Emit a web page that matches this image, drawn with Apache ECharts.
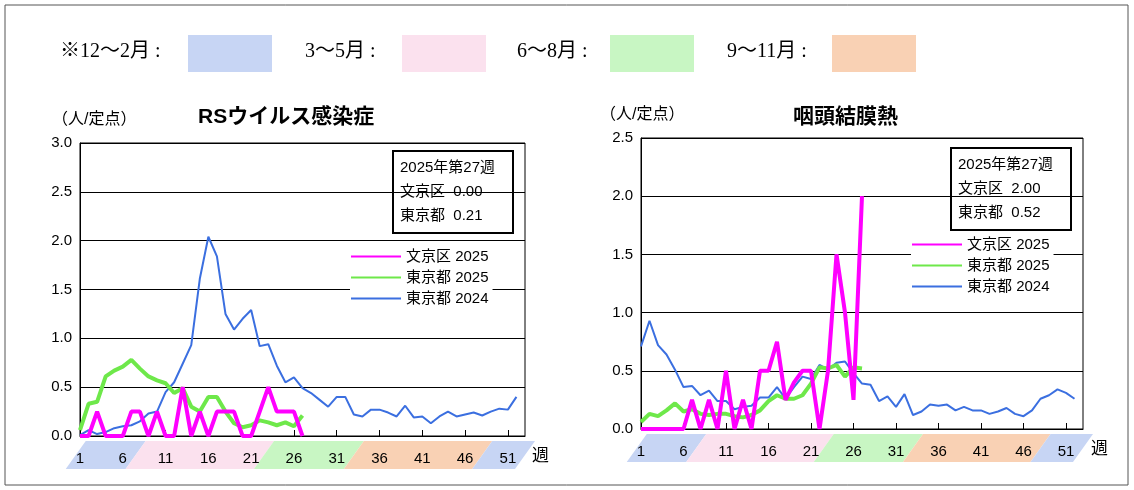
<!DOCTYPE html>
<html><head><meta charset="utf-8">
<script src="https://cdn.jsdelivr.net/npm/echarts@6/dist/echarts.min.js"></script>
<style>html,body{margin:0;background:#fff}#c{width:1134px;height:490px}</style>
</head><body><div id="c"></div>
<script>
const weeks = Array.from({length: 53}, (_, i) => String(i + 1));
// RSウイルス感染症
const rsBunkyo2025 = [0,0,0.25,0,0,0,0.25,0.25,0,0.25,0,0,0.5,0,0.25,0,0.25,0.25,0.25,0,0,0.25,0.5,0.25,0.25,0.25,0];
const rsTokyo2025 = [0.06,0.33,0.35,0.61,0.67,0.71,0.78,0.69,0.61,0.57,0.54,0.44,0.49,0.30,0.25,0.40,0.40,0.25,0.13,0.09,0.11,0.16,0.14,0.11,0.14,0.10,0.21];
const rsTokyo2024 = [0.01,0.06,0.02,0.04,0.08,0.10,0.11,0.15,0.23,0.25,0.45,0.55,0.74,0.93,1.61,2.04,1.84,1.25,1.09,1.20,1.29,0.92,0.94,0.72,0.55,0.60,0.49,0.44,0.37,0.30,0.40,0.40,0.22,0.20,0.27,0.27,0.24,0.20,0.31,0.19,0.20,0.13,0.20,0.25,0.20,0.22,0.24,0.21,0.25,0.28,0.27,0.40];
// 咽頭結膜熱
const pcBunkyo2025 = [0,0,0,0,0,0,0.25,0,0.25,0,0.5,0,0.25,0,0.5,0.5,0.75,0.25,0.4,0.5,0.5,0,0.5,1.5,1.0,0.25,2.0];
const pcTokyo2025 = [0.06,0.13,0.11,0.16,0.22,0.15,0.17,0.13,0.12,0.13,0.13,0.11,0.10,0.12,0.16,0.24,0.29,0.26,0.26,0.29,0.39,0.53,0.52,0.55,0.45,0.53,0.52];
const pcTokyo2024 = [0.71,0.93,0.72,0.64,0.51,0.36,0.37,0.29,0.33,0.24,0.24,0.17,0.19,0.20,0.27,0.27,0.36,0.26,0.36,0.45,0.43,0.55,0.51,0.57,0.58,0.48,0.39,0.38,0.24,0.28,0.19,0.30,0.12,0.15,0.21,0.20,0.21,0.16,0.19,0.16,0.16,0.13,0.15,0.18,0.13,0.11,0.16,0.26,0.29,0.34,0.31,0.26];
// season bands: [fromWeek, toWeek, colour]
const seasonBands = [[0.5,7.5,'#c7d5f4'],[7.5,22.5,'#fbe1ee'],[22.5,33,'#c8f6c3'],[33,48,'#f9d1b4'],[48,53,'#c7d5f4']];
const seasonLegend = [['※12～2月 :','#c7d5f4'],['3～5月 :','#fbe1ee'],['6～8月 :','#c8f6c3'],['9～11月 :','#f9d1b4']];
const names = ['文京区 2025','東京都 2025','東京都 2024'];

const FONT = '"Liberation Sans","Noto Sans CJK JP",sans-serif';
const SERIF = '"Liberation Serif","Noto Sans CJK JP",serif';
const chart = echarts.init(document.getElementById('c'));

function xAx(i) {
  return { type: 'category', gridIndex: i, data: weeks, boundaryGap: false,
    axisLine: { lineStyle: { color: '#000' } },
    axisTick: { inside: true, length: 6, interval: j => j % 5 === 0 && j > 0, lineStyle: { color: '#000' } },
    axisLabel: { interval: j => j % 5 === 0, margin: 15, fontSize: 15, color: '#000', fontFamily: FONT } };
}
function yAx(i, max) {
  return { type: 'value', gridIndex: i, min: 0, max: max, interval: 0.5,
    axisLine: { show: true, lineStyle: { color: '#000' } }, axisTick: { show: true, inside: true, lineStyle: { color: '#000' } },
    splitLine: { lineStyle: { color: '#000' } },
    axisLabel: { formatter: v => v.toFixed(1), fontSize: 15, color: '#000', fontFamily: FONT, margin: 8 } };
}
function ser(i, name, data, color, w) {
  return { type: 'line', name: name, xAxisIndex: i, yAxisIndex: i, data: data, symbol: 'none',
    lineStyle: { color: color, width: w }, itemStyle: { color: color }, z: w > 3 ? 3 : 2 };
}
function legend(left, top) {
  return { orient: 'vertical', left: left, top: top, data: names, itemWidth: 50, itemHeight: 10, itemGap: 6,
    backgroundColor: '#fff', padding: [2, 4, 2, 0], selectedMode: false,
    itemStyle: { opacity: 0 },
    textStyle: { fontSize: 15, color: '#000', fontFamily: FONT } };
}
function infoBox(x, y, a, b) {
  return { type: 'group', left: x, top: y, children: [
    { type: 'rect', shape: { width: 120, height: 82 }, style: { fill: '#fff', stroke: '#000', lineWidth: 2 } },
    { type: 'text', left: 7, top: 5, style: { text: '2025年第27週\n文京区  ' + a + '\n東京都  ' + b, fontSize: 15, lineHeight: 24, fill: '#000', fontFamily: FONT } }
  ] };
}

const staticGraphic = [
  { type: 'rect', shape: { x: 5, y: 5, width: 1123, height: 480 }, style: { fill: 'none', stroke: '#555', lineWidth: 1 } },
  { type: 'text', left: 52, top: 112, style: { text: '（人/定点）', fontSize: 16, fontFamily: FONT, fill: '#000' } },
  { type: 'text', left: 198, top: 107, style: { text: 'RSウイルス感染症', fontSize: 21, fontWeight: 'bold', fontFamily: FONT, fill: '#000' } },
  { type: 'text', left: 600, top: 107, style: { text: '（人/定点）', fontSize: 16, fontFamily: FONT, fill: '#000' } },
  { type: 'text', left: 793, top: 107, style: { text: '咽頭結膜熱', fontSize: 21, fontWeight: 'bold', fontFamily: FONT, fill: '#000' } },
  { type: 'text', left: 532, top: 448, style: { text: '週', fontSize: 17, fontFamily: FONT, fill: '#000' } },
  { type: 'text', left: 1091, top: 441, style: { text: '週', fontSize: 17, fontFamily: FONT, fill: '#000' } },
  infoBox(392, 150, '0.00', '0.21'),
  infoBox(950, 147, '2.00', '0.52')
];
const lx = [60, 305, 517, 727], bx = [188, 402, 610, 832];
seasonLegend.forEach((s, i) => {
  staticGraphic.push({ type: 'text', left: lx[i], top: 42, style: { text: s[0], fontSize: 20, fontFamily: SERIF, fill: '#000' } });
  staticGraphic.push({ type: 'rect', shape: { x: bx[i], y: 35, width: 84, height: 37 }, style: { fill: s[1] } });
});

chart.setOption({
  animation: false,
  grid: [{ left: 80, top: 143, width: 445, bottom: 54, show: true, borderColor: '#000', borderWidth: 1 },
         { left: 641, top: 138, width: 442, bottom: 61, show: true, borderColor: '#000', borderWidth: 1 }],
  xAxis: [xAx(0), xAx(1)],
  yAxis: [yAx(0, 3), yAx(1, 2.5)],
  legend: [legend(350, 247), legend(911, 235)],
  series: [
    ser(0, names[2], rsTokyo2024, '#3b6fe0', 2),
    ser(0, names[1], rsTokyo2025, '#6ee84a', 4),
    ser(0, names[0], rsBunkyo2025, '#ff00ff', 4),
    ser(1, names[2], pcTokyo2024, '#3b6fe0', 2),
    ser(1, names[1], pcTokyo2025, '#6ee84a', 4),
    ser(1, names[0], pcBunkyo2025, '#ff00ff', 4)
  ],
  graphic: staticGraphic
});

// season bands under each x axis, placed through the axis scale
const bands = [];
[0, 1].forEach(g => {
  const y0 = chart.convertToPixel({ yAxisIndex: g }, 0);
  const base = chart.convertToPixel({ xAxisIndex: g }, '1');
  const step = chart.convertToPixel({ xAxisIndex: g }, '2') - base;
  seasonBands.forEach(b => {
    const x1 = base + (b[0] - 1) * step, x2 = base + (b[1] - 1) * step;
    const top = y0 + 5, bot = y0 + 33, sl = 10;
    bands.push({ type: 'polygon', z: -10, shape: { points: [[x1 + sl, top], [x2 + sl, top], [x2 - sl, bot], [x1 - sl, bot]] }, style: { fill: b[2] } });
  });
});
chart.setOption({ graphic: staticGraphic.concat(bands) });
</script></body></html>
